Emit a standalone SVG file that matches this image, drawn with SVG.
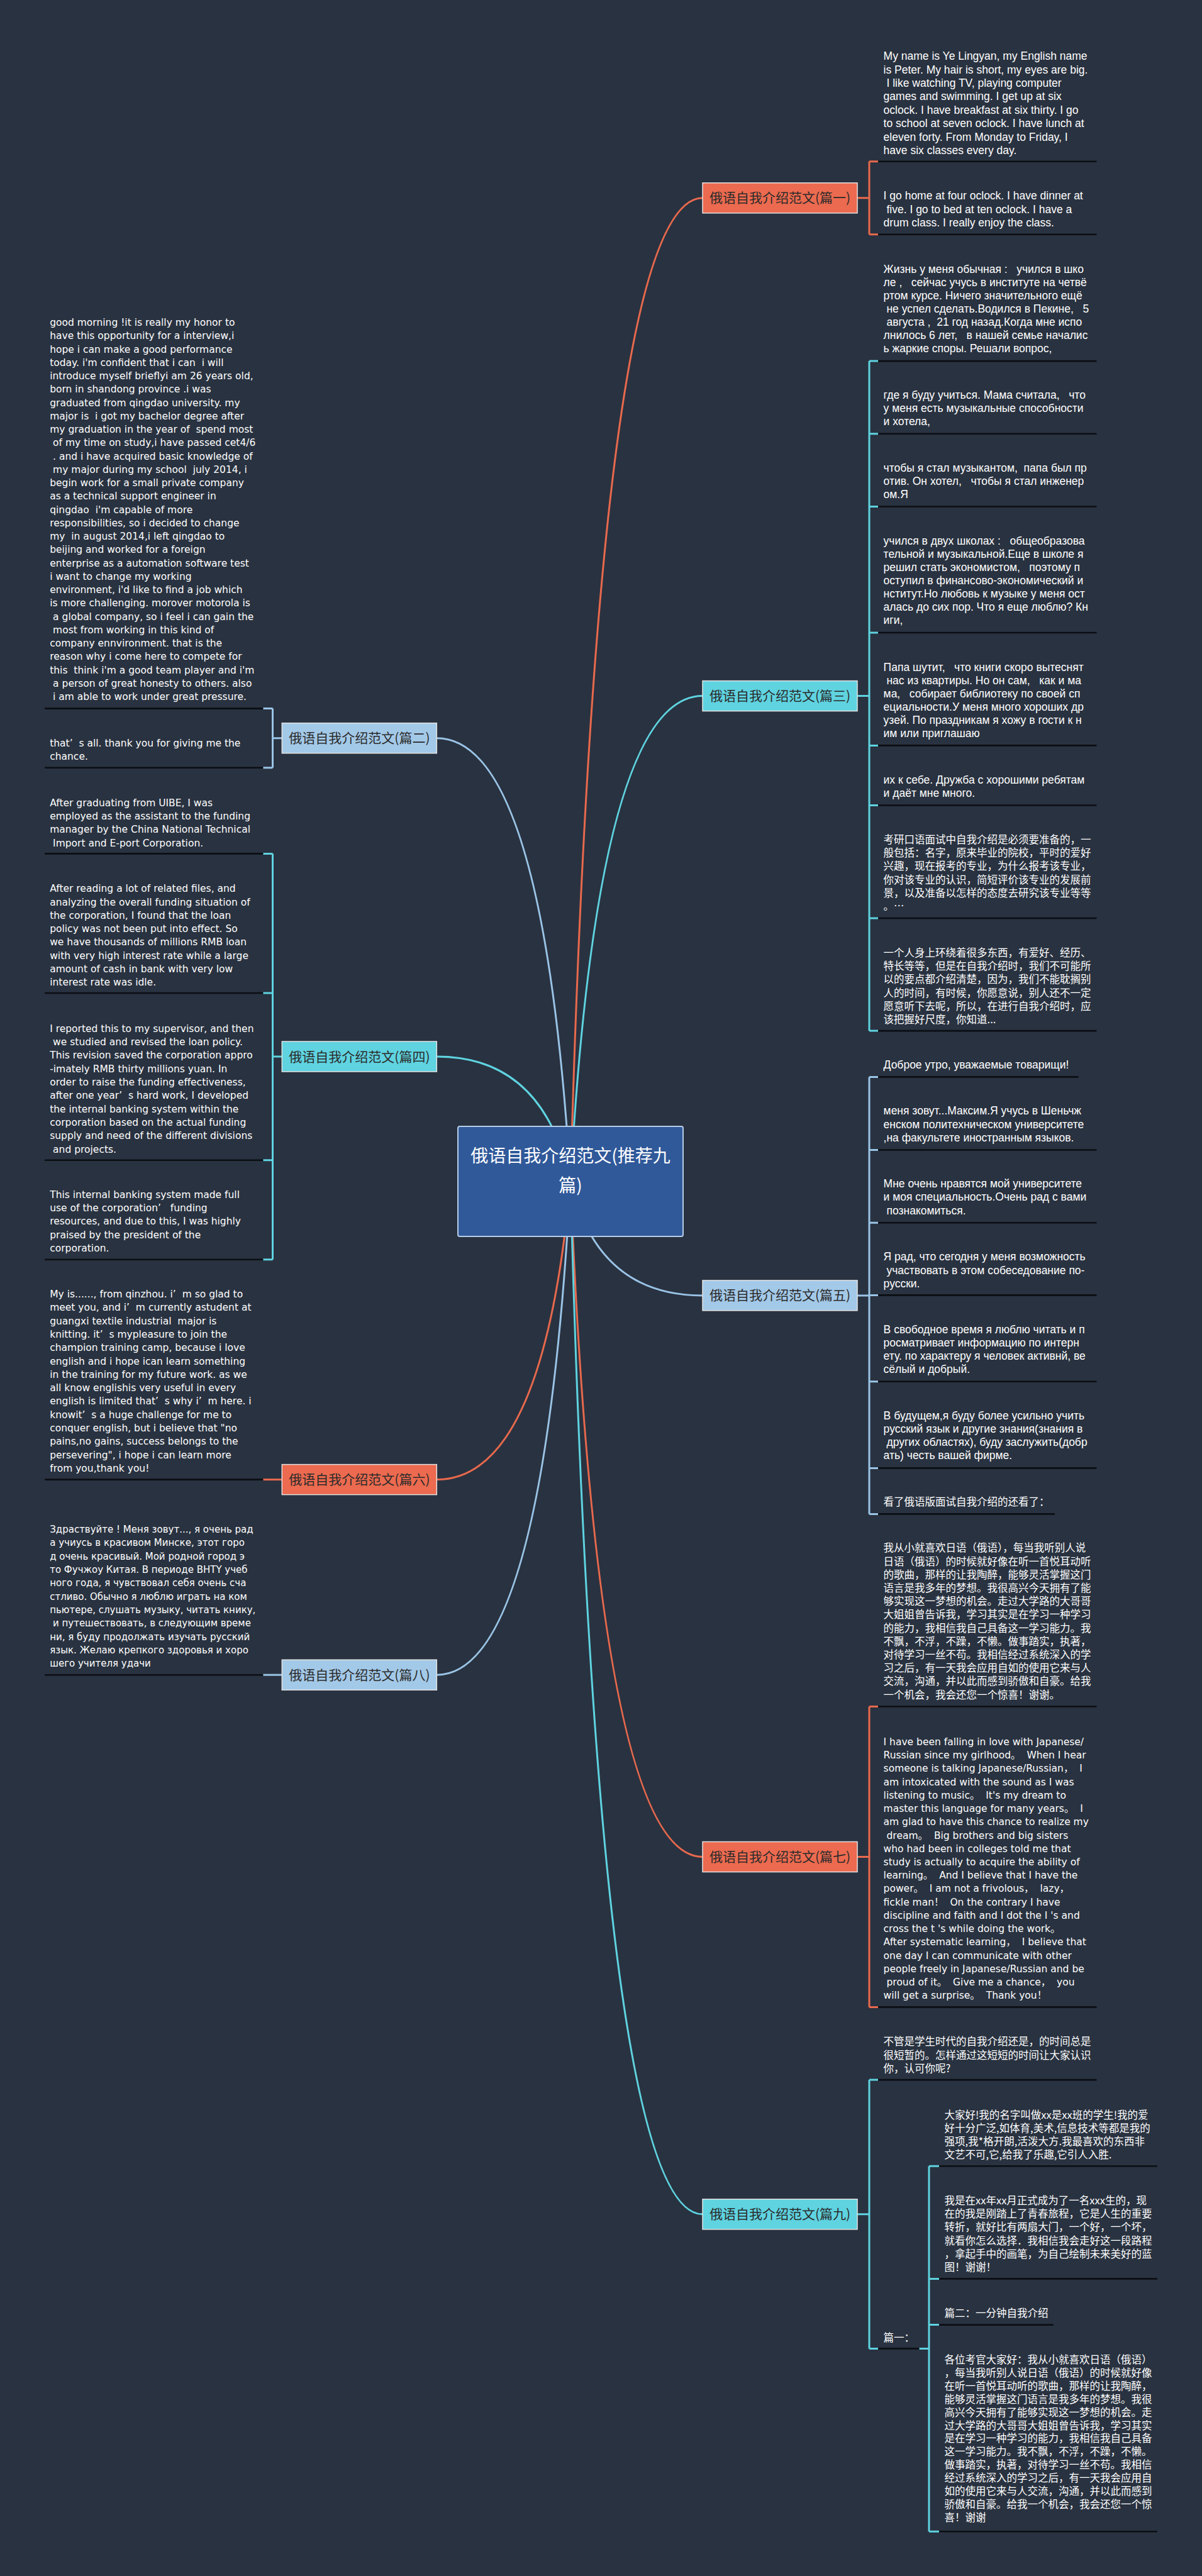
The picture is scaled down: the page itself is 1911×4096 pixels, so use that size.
<svg xmlns="http://www.w3.org/2000/svg" width="1911" height="4096" viewBox="0 0 1911 4096" xml:space="preserve">
<style>
.en{font-family:"Liberation Sans","Noto Sans CJK SC",sans-serif;font-size:17.5px;fill:#ffffff;white-space:pre}
.wd{font-family:"DejaVu Sans","Noto Sans CJK SC",sans-serif;font-size:15.5px;fill:#ffffff;white-space:pre}
.wr{font-family:"DejaVu Sans","Noto Sans CJK SC",sans-serif;font-size:15px;fill:#ffffff;white-space:pre}
.cj{font-family:"Noto Sans CJK SC",sans-serif;font-size:16.5px;fill:#ffffff;white-space:pre}
.ul{stroke:#0b0e13;stroke-width:2.6;fill:none}
.or{stroke:#e8694d;stroke-width:3;fill:none}
.cy{stroke:#5fd3e0;stroke-width:3;fill:none}
.lb{stroke:#9ac4e6;stroke-width:3;fill:none}
.bx{stroke:#e2e2e2;stroke-width:1.5}
.bor{fill:#ec6a4f}
.bcy{fill:#5fd3e0}
.blb{fill:#a3c9e8}
.bt{font-family:"Noto Sans CJK SC",sans-serif;font-size:21px;fill:#2b2b2b;text-anchor:middle}
.rt{font-family:"Noto Sans CJK SC",sans-serif;font-size:28px;fill:#ffffff;text-anchor:middle}
</style>
<rect x="0" y="0" width="1911" height="4096" fill="#293240"/>

<g id="connectors">
<path class="or" d="M907 1879 Q950 314.8 1117 314.8"/>
<path class="cy" d="M907 1879 Q950 1106.6 1117 1106.6"/>
<path class="lb" d="M907 1879 Q950 2059.9 1117 2059.9"/>
<path class="or" d="M907 1879 Q950 2952.5 1117 2952.5"/>
<path class="cy" d="M907 1879 Q950 3520.8 1117 3520.8"/>
<path class="lb" d="M907 1879 Q864 1173.7 694.5 1173.7"/>
<path class="cy" d="M907 1879 Q864 1680 694.5 1680"/>
<path class="or" d="M907 1879 Q864 2352.6 694.5 2352.6"/>
<path class="lb" d="M907 1879 Q864 2663.2 694.5 2663.2"/>

<path class="or" d="M1363 314.8H1382M1382 256.8V372.7M1382 256.8H1396M1382 372.7H1396"/>
<path class="cy" d="M1363 1106.6H1382M1382 574.1V1639.1M1382 574.1H1396M1382 689.8H1396M1382 805.5H1396M1382 1006H1396M1382 1185.4H1396M1382 1280.5H1396M1382 1460H1396M1382 1639.1H1396"/>
<path class="lb" d="M1363 2059.9H1382M1382 1712.4V2407.4M1382 1712.4H1396M1382 1828.5H1396M1382 1944.3H1396M1382 2059.4H1396M1382 2196.8H1396M1382 2334.4H1396M1382 2407.4H1396"/>
<path class="or" d="M1363 2952.5H1382M1382 2713.5V3191.4M1382 2713.5H1396M1382 3191.4H1396"/>
<path class="cy" d="M1363 3520.8H1382M1382 3307.1V3734.4M1382 3307.1H1396M1382 3734.4H1396"/>
<path class="cy" d="M1461.4 3734.4H1477M1477 3444.2V4025.2M1477 3444.2H1493M1477 3623.4H1493M1477 3696.6H1493M1477 4025.2H1493"/>

<path class="lb" d="M448.3 1173.7H433.5M433.5 1126.6V1220.8M433.5 1126.6H418.3M433.5 1220.8H418.3"/>
<path class="cy" d="M448.3 1680H433.5M433.5 1357.4V2002.7M433.5 1357.4H418.3M433.5 1579H418.3M433.5 1844.8H418.3M433.5 2002.7H418.3"/>
<path class="or" d="M448.3 2352.6H418.3"/>
<path class="lb" d="M448.3 2663.2H418.3"/>
</g>

<g id="root">
<rect x="728" y="1791" width="358" height="175" rx="3" fill="#30599a" stroke="#b7cde8" stroke-width="2"/>
<text class="rt" x="907" y="1848">俄语自我介绍范文(推荐九</text>
<text class="rt" x="907" y="1895">篇)</text>
</g>

<g id="b1"><rect class="bx bor" x="1117" y="290.8" width="246" height="48"/><text class="bt" x="1240" y="322.3">俄语自我介绍范文(篇一)</text></g>
<g id="b3"><rect class="bx bcy" x="1117" y="1082.6" width="246" height="48"/><text class="bt" x="1240" y="1114.1">俄语自我介绍范文(篇三)</text></g>
<g id="b5"><rect class="bx blb" x="1117" y="2035.9" width="246" height="48"/><text class="bt" x="1240" y="2067.4">俄语自我介绍范文(篇五)</text></g>
<g id="b7"><rect class="bx bor" x="1117" y="2928.5" width="246" height="48"/><text class="bt" x="1240" y="2960">俄语自我介绍范文(篇七)</text></g>
<g id="b9"><rect class="bx bcy" x="1117" y="3496.8" width="246" height="48"/><text class="bt" x="1240" y="3528.3">俄语自我介绍范文(篇九)</text></g>
<g id="b2"><rect class="bx blb" x="448.3" y="1149.7" width="246" height="48"/><text class="bt" x="571.4" y="1181.2">俄语自我介绍范文(篇二)</text></g>
<g id="b4"><rect class="bx bcy" x="448.3" y="1656" width="246" height="48"/><text class="bt" x="571.4" y="1687.5">俄语自我介绍范文(篇四)</text></g>
<g id="b6"><rect class="bx bor" x="448.3" y="2328.6" width="246" height="48"/><text class="bt" x="571.4" y="2360.1">俄语自我介绍范文(篇六)</text></g>
<g id="b8"><rect class="bx blb" x="448.3" y="2639.2" width="246" height="48"/><text class="bt" x="571.4" y="2670.7">俄语自我介绍范文(篇八)</text></g>

<g id="tA">
<text class="en" x="1404.6" y="95.1">My name is Ye Lingyan, my English name</text>
<text class="en" x="1404.6" y="116.5">is Peter. My hair is short, my eyes are big.</text>
<text class="en" x="1404.6" y="137.9"> I like watching TV, playing computer</text>
<text class="en" x="1404.6" y="159.3">games and swimming. I get up at six</text>
<text class="en" x="1404.6" y="180.7">oclock. I have breakfast at six thirty. I go</text>
<text class="en" x="1404.6" y="202.1">to school at seven oclock. I have lunch at</text>
<text class="en" x="1404.6" y="223.5">eleven forty. From Monday to Friday, I</text>
<text class="en" x="1404.6" y="244.9">have six classes every day.</text>
<path class="ul" d="M1396 256.8H1743.5"/>
</g>
<g id="tB">
<text class="en" x="1404.6" y="317.3">I go home at four oclock. I have dinner at</text>
<text class="en" x="1404.6" y="338.7"> five. I go to bed at ten oclock. I have a</text>
<text class="en" x="1404.6" y="360.1">drum class. I really enjoy the class.</text>
<path class="ul" d="M1396 372.7H1743.5"/>
</g>

<g id="tC">
<text class="en" x="1404.6" y="433.9">Жизнь у меня обычная :   учился в шко</text>
<text class="en" x="1404.6" y="454.9">ле ,   сейчас учусь в институте на четвё</text>
<text class="en" x="1404.6" y="475.9">ртом курсе. Ничего значительного ещё</text>
<text class="en" x="1404.6" y="496.9"> не успел сделать.Водился в Пекине,   5</text>
<text class="en" x="1404.6" y="517.9"> августа ,  21 год назад.Когда мне испо</text>
<text class="en" x="1404.6" y="538.9">лнилось 6 лет,   в нашей семье началис</text>
<text class="en" x="1404.6" y="559.9">ь жаркие споры. Решали вопрос,</text>
<path class="ul" d="M1396 574.1H1743.5"/>
</g>
<g id="tD">
<text class="en" x="1404.6" y="633.8">где я буду учиться. Мама считала,   что</text>
<text class="en" x="1404.6" y="654.8">у меня есть музыкальные способности</text>
<text class="en" x="1404.6" y="675.8">и хотела,</text>
<path class="ul" d="M1396 689.8H1743.5"/>
</g>
<g id="tE">
<text class="en" x="1404.6" y="749.8">чтобы я стал музыкантом,  папа был пр</text>
<text class="en" x="1404.6" y="770.8">отив. Он хотел,   чтобы я стал инженер</text>
<text class="en" x="1404.6" y="791.8">ом.Я</text>
<path class="ul" d="M1396 805.5H1743.5"/>
</g>
<g id="tF">
<text class="en" x="1404.6" y="865.8">учился в двух школах :   общеобразова</text>
<text class="en" x="1404.6" y="886.8">тельной и музыкальной.Еще в школе я</text>
<text class="en" x="1404.6" y="907.7">решил стать экономистом,   поэтому п</text>
<text class="en" x="1404.6" y="928.7">оступил в финансово-экономический и</text>
<text class="en" x="1404.6" y="949.6">нститут.Но любовь к музыке у меня ост</text>
<text class="en" x="1404.6" y="970.6">алась до сих пор. Что я еще люблю? Кн</text>
<text class="en" x="1404.6" y="991.6">иги,</text>
<path class="ul" d="M1396 1006H1743.5"/>
</g>
<g id="tG">
<text class="en" x="1404.6" y="1066.5">Папа шутит,   что книги скоро вытеснят</text>
<text class="en" x="1404.6" y="1087.5"> нас из квартиры. Но он сам,   как и ма</text>
<text class="en" x="1404.6" y="1108.5">ма,   собирает библиотеку по своей сп</text>
<text class="en" x="1404.6" y="1129.5">ециальности.У меня много хороших др</text>
<text class="en" x="1404.6" y="1150.5">узей. По праздникам я хожу в гости к н</text>
<text class="en" x="1404.6" y="1171.5">им или приглашаю</text>
<path class="ul" d="M1396 1185.4H1743.5"/>
</g>
<g id="tH">
<text class="en" x="1404.6" y="1245.9">их к себе. Дружба с хорошими ребятам</text>
<text class="en" x="1404.6" y="1266.8">и даёт мне много.</text>
<path class="ul" d="M1396 1280.5H1743.5"/>
</g>
<g id="tI">
<text class="cj" x="1404.6" y="1340.5">考研口语面试中自我介绍是必须要准备的，一</text>
<text class="cj" x="1404.6" y="1361.8">般包括：名字，原来毕业的院校，平时的爱好</text>
<text class="cj" x="1404.6" y="1383.2">兴趣，现在报考的专业，为什么报考该专业，</text>
<text class="cj" x="1404.6" y="1404.5">你对该专业的认识，简短评价该专业的发展前</text>
<text class="cj" x="1404.6" y="1425.8">景，以及准备以怎样的态度去研究该专业等等</text>
<text class="cj" x="1404.6" y="1447.2">。…</text>
<path class="ul" d="M1396 1460H1743.5"/>
</g>
<g id="tJ">
<text class="cj" x="1404.6" y="1520.5">一个人身上环绕着很多东西，有爱好、经历、</text>
<text class="cj" x="1404.6" y="1541.8">特长等等，但是在自我介绍时，我们不可能所</text>
<text class="cj" x="1404.6" y="1563.2">以的要点都介绍清楚，因为，我们不能耽搁别</text>
<text class="cj" x="1404.6" y="1584.5">人的时间，有时候，你愿意说，别人还不一定</text>
<text class="cj" x="1404.6" y="1605.8">愿意听下去呢，所以，在进行自我介绍时，应</text>
<text class="cj" x="1404.6" y="1627.2">该把握好尺度，你知道...</text>
<path class="ul" d="M1396 1639.1H1743.5"/>
</g>

<g id="tK">
<text class="en" x="1404.6" y="1699">Доброе утро, уважаемые товарищи!</text>
<path class="ul" d="M1396 1712.4H1714.6"/>
</g>
<g id="tL">
<text class="en" x="1404.6" y="1772.1">меня зовут...Максим.Я учусь в Шеньчж</text>
<text class="en" x="1404.6" y="1793.5">енском политехническом университете</text>
<text class="en" x="1404.6" y="1814.8">,на факультете иностранным языков.</text>
<path class="ul" d="M1396 1828.5H1743.5"/>
</g>
<g id="tM">
<text class="en" x="1404.6" y="1887.9">Мне очень нравятся мой университете</text>
<text class="en" x="1404.6" y="1909.2">и моя специальность.Очень рад с вами</text>
<text class="en" x="1404.6" y="1930.6"> познакомиться.</text>
<path class="ul" d="M1396 1944.3H1743.5"/>
</g>
<g id="tN">
<text class="en" x="1404.6" y="2004.4">Я рад, что сегодня у меня возможность</text>
<text class="en" x="1404.6" y="2025.7"> участвовать в этом собеседование по-</text>
<text class="en" x="1404.6" y="2047">русски.</text>
<path class="ul" d="M1396 2059.4H1743.5"/>
</g>
<g id="tO">
<text class="en" x="1404.6" y="2120.1">В свободное время я люблю читать и п</text>
<text class="en" x="1404.6" y="2141.1">росматривает информацию по интерн</text>
<text class="en" x="1404.6" y="2162.1">ету. по характеру я человек активнй, ве</text>
<text class="en" x="1404.6" y="2183.1">сёлый и добрый.</text>
<path class="ul" d="M1396 2196.8H1743.5"/>
</g>
<g id="tP">
<text class="en" x="1404.6" y="2256.7">В будущем,я буду более усильно учить</text>
<text class="en" x="1404.6" y="2277.7">русский язык и другие знания(знания в</text>
<text class="en" x="1404.6" y="2298.7"> других областях), буду заслужить(добр</text>
<text class="en" x="1404.6" y="2319.7">ать) честь вашей фирме.</text>
<path class="ul" d="M1396 2334.4H1743.5"/>
</g>
<g id="tQ">
<text class="cj" x="1404.6" y="2394.4">看了俄语版面试自我介绍的还看了：</text>
<path class="ul" d="M1396 2407.4H1677"/>
</g>

<g id="tR">
<text class="cj" x="1404.6" y="2467.3">我从小就喜欢日语（俄语），每当我听别人说</text>
<text class="cj" x="1404.6" y="2488.5">日语（俄语）的时候就好像在听一首悦耳动听</text>
<text class="cj" x="1404.6" y="2509.7">的歌曲，那样的让我陶醉，能够灵活掌握这门</text>
<text class="cj" x="1404.6" y="2530.9">语言是我多年的梦想。我很高兴今天拥有了能</text>
<text class="cj" x="1404.6" y="2552.1">够实现这一梦想的机会。走过大学路的大哥哥</text>
<text class="cj" x="1404.6" y="2573.3">大姐姐曾告诉我，学习其实是在学习一种学习</text>
<text class="cj" x="1404.6" y="2594.5">的能力，我相信我自己具备这一学习能力。我</text>
<text class="cj" x="1404.6" y="2615.7">不飘，不浮，不躁，不懒。做事踏实，执著，</text>
<text class="cj" x="1404.6" y="2636.9">对待学习一丝不苟。我相信经过系统深入的学</text>
<text class="cj" x="1404.6" y="2658.1">习之后，有一天我会应用自如的使用它来与人</text>
<text class="cj" x="1404.6" y="2679.3">交流，沟通，并以此而感到骄傲和自豪。给我</text>
<text class="cj" x="1404.6" y="2700.5">一个机会，我会还您一个惊喜！谢谢。</text>
<path class="ul" d="M1396 2713.5H1743.5"/>
</g>
<g id="tS">
<text class="wd" x="1404.6" y="2774.8">I have been falling in love with Japanese/</text>
<text class="wd" x="1404.6" y="2796">Russian since my girlhood。  When I hear</text>
<text class="wd" x="1404.6" y="2817.3">someone is talking Japanese/Russian，  I</text>
<text class="wd" x="1404.6" y="2838.5">am intoxicated with the sound as I was</text>
<text class="wd" x="1404.6" y="2859.8">listening to music。  It's my dream to</text>
<text class="wd" x="1404.6" y="2881">master this language for many years。  I</text>
<text class="wd" x="1404.6" y="2902.2">am glad to have this chance to realize my</text>
<text class="wd" x="1404.6" y="2923.5"> dream。  Big brothers and big sisters</text>
<text class="wd" x="1404.6" y="2944.7">who had been in colleges told me that</text>
<text class="wd" x="1404.6" y="2966">study is actually to acquire the ability of</text>
<text class="wd" x="1404.6" y="2987.2">learning。  And I believe that I have the</text>
<text class="wd" x="1404.6" y="3008.4">power。  I am not a frivolous，  lazy，</text>
<text class="wd" x="1404.6" y="3029.7">fickle man！  On the contrary I have</text>
<text class="wd" x="1404.6" y="3050.9">discipline and faith and I dot the I 's and</text>
<text class="wd" x="1404.6" y="3072.2">cross the t 's while doing the work。</text>
<text class="wd" x="1404.6" y="3093.4">After systematic learning，  I believe that</text>
<text class="wd" x="1404.6" y="3114.6">one day I can communicate with other</text>
<text class="wd" x="1404.6" y="3135.9">people freely in Japanese/Russian and be</text>
<text class="wd" x="1404.6" y="3157.1"> proud of it。  Give me a chance，  you</text>
<text class="wd" x="1404.6" y="3178.4">will get a surprise。  Thank you！</text>
<path class="ul" d="M1396 3191.4H1743.5"/>
</g>

<g id="tT">
<text class="cj" x="1404.6" y="3252.2">不管是学生时代的自我介绍还是，的时间总是</text>
<text class="cj" x="1404.6" y="3273.6">很短暂的。怎样通过这短短的时间让大家认识</text>
<text class="cj" x="1404.6" y="3295.1">你，认可你呢?</text>
<path class="ul" d="M1396 3307.1H1743.5"/>
</g>
<g id="tP1">
<text class="cj" x="1404.6" y="3723">篇一：</text>
<path class="ul" d="M1396 3734.4H1461.4"/>
</g>
<g id="tU">
<text class="cj" x="1501.5" y="3368.5">大家好!我的名字叫做xx是xx班的学生!我的爱</text>
<text class="cj" x="1501.5" y="3389.5">好十分广泛,如体育,美术,信息技术等都是我的</text>
<text class="cj" x="1501.5" y="3410.5">强项,我*格开朗,活泼大方.我最喜欢的东西非</text>
<text class="cj" x="1501.5" y="3431.5">文艺不可,它,给我了乐趣,它引人入胜.</text>
<path class="ul" d="M1493 3444.2H1840"/>
</g>
<g id="tV">
<text class="cj" x="1501.5" y="3504.8">我是在xx年xx月正式成为了一名xxx生的，现</text>
<text class="cj" x="1501.5" y="3526.1">在的我是刚踏上了青春旅程，它是人生的重要</text>
<text class="cj" x="1501.5" y="3547.4">转折，就好比有两扇大门，一个好，一个坏，</text>
<text class="cj" x="1501.5" y="3568.7">就看你怎么选择．我相信我会走好这一段路程</text>
<text class="cj" x="1501.5" y="3590">，拿起手中的画笔，为自己绘制未来美好的蓝</text>
<text class="cj" x="1501.5" y="3611.3">图！谢谢！</text>
<path class="ul" d="M1493 3623.4H1840"/>
</g>
<g id="tW0">
<text class="cj" x="1501.5" y="3684.3">篇二：一分钟自我介绍</text>
<path class="ul" d="M1493 3696.6H1674.7"/>
</g>
<g id="tW">
<text class="cj" x="1501.5" y="3757.8">各位考官大家好：我从小就喜欢日语（俄语）</text>
<text class="cj" x="1501.5" y="3778.7">，每当我听别人说日语（俄语）的时候就好像</text>
<text class="cj" x="1501.5" y="3799.7">在听一首悦耳动听的歌曲，那样的让我陶醉，</text>
<text class="cj" x="1501.5" y="3820.6">能够灵活掌握这门语言是我多年的梦想。我很</text>
<text class="cj" x="1501.5" y="3841.6">高兴今天拥有了能够实现这一梦想的机会。走</text>
<text class="cj" x="1501.5" y="3862.5">过大学路的大哥哥大姐姐曾告诉我，学习其实</text>
<text class="cj" x="1501.5" y="3883.4">是在学习一种学习的能力，我相信我自己具备</text>
<text class="cj" x="1501.5" y="3904.4">这一学习能力。我不飘，不浮，不躁，不懒。</text>
<text class="cj" x="1501.5" y="3925.3">做事踏实，执著，对待学习一丝不苟。我相信</text>
<text class="cj" x="1501.5" y="3946.3">经过系统深入的学习之后，有一天我会应用自</text>
<text class="cj" x="1501.5" y="3967.2">如的使用它来与人交流，沟通，并以此而感到</text>
<text class="cj" x="1501.5" y="3988.1">骄傲和自豪。给我一个机会，我会还您一个惊</text>
<text class="cj" x="1501.5" y="4009.1">喜！谢谢</text>
<path class="ul" d="M1493 4025.2H1840"/>
</g>

<g id="ta">
<text class="wd" x="79.2" y="518.1">good morning !it is really my honor to</text>
<text class="wd" x="79.2" y="539.4">have this opportunity for a interview,i</text>
<text class="wd" x="79.2" y="560.6">hope i can make a good performance</text>
<text class="wd" x="79.2" y="581.9">today. i'm confident that i can  i will</text>
<text class="wd" x="79.2" y="603.1">introduce myself brieflyi am 26 years old,</text>
<text class="wd" x="79.2" y="624.4">born in shandong province .i was</text>
<text class="wd" x="79.2" y="645.6">graduated from qingdao university. my</text>
<text class="wd" x="79.2" y="666.9">major is  i got my bachelor degree after</text>
<text class="wd" x="79.2" y="688.1">my graduation in the year of  spend most</text>
<text class="wd" x="79.2" y="709.4"> of my time on study,i have passed cet4/6</text>
<text class="wd" x="79.2" y="730.6"> . and i have acquired basic knowledge of</text>
<text class="wd" x="79.2" y="751.9"> my major during my school  july 2014, i</text>
<text class="wd" x="79.2" y="773.1">begin work for a small private company</text>
<text class="wd" x="79.2" y="794.4">as a technical support engineer in</text>
<text class="wd" x="79.2" y="815.6">qingdao  i'm capable of more</text>
<text class="wd" x="79.2" y="836.9">responsibilities, so i decided to change</text>
<text class="wd" x="79.2" y="858.1">my  in august 2014,i left qingdao to</text>
<text class="wd" x="79.2" y="879.4">beijing and worked for a foreign</text>
<text class="wd" x="79.2" y="900.6">enterprise as a automation software test</text>
<text class="wd" x="79.2" y="921.9">i want to change my working</text>
<text class="wd" x="79.2" y="943.1">environment, i'd like to find a job which</text>
<text class="wd" x="79.2" y="964.4">is more challenging. morover motorola is</text>
<text class="wd" x="79.2" y="985.6"> a global company, so i feel i can gain the</text>
<text class="wd" x="79.2" y="1006.9"> most from working in this kind of</text>
<text class="wd" x="79.2" y="1028.1">company ennvironment. that is the</text>
<text class="wd" x="79.2" y="1049.4">reason why i come here to compete for</text>
<text class="wd" x="79.2" y="1070.6">this  think i'm a good team player and i'm</text>
<text class="wd" x="79.2" y="1091.9"> a person of great honesty to others. also</text>
<text class="wd" x="79.2" y="1113.1"> i am able to work under great pressure.</text>
<path class="ul" d="M71.1 1126.6H418.3"/>
</g>
<g id="tb">
<text class="wd" x="79.2" y="1187">that’  s all. thank you for giving me the</text>
<text class="wd" x="79.2" y="1208.4">chance.</text>
<path class="ul" d="M71.1 1220.8H418.3"/>
</g>
<g id="tc">
<text class="wd" x="79.2" y="1281.9">After graduating from UIBE, I was</text>
<text class="wd" x="79.2" y="1303.1">employed as the assistant to the funding</text>
<text class="wd" x="79.2" y="1324.3">manager by the China National Technical</text>
<text class="wd" x="79.2" y="1345.5"> Import and E-port Corporation.</text>
<path class="ul" d="M71.1 1357.4H418.3"/>
</g>
<g id="td">
<text class="wd" x="79.2" y="1418.2">After reading a lot of related files, and</text>
<text class="wd" x="79.2" y="1439.5">analyzing the overall funding situation of</text>
<text class="wd" x="79.2" y="1460.8">the corporation, I found that the loan</text>
<text class="wd" x="79.2" y="1482.1">policy was not been put into effect. So</text>
<text class="wd" x="79.2" y="1503.4">we have thousands of millions RMB loan</text>
<text class="wd" x="79.2" y="1524.7">with very high interest rate while a large</text>
<text class="wd" x="79.2" y="1546">amount of cash in bank with very low</text>
<text class="wd" x="79.2" y="1567.3">interest rate was idle.</text>
<path class="ul" d="M71.1 1579H418.3"/>
</g>
<g id="te">
<text class="wd" x="79.2" y="1640.8">I reported this to my supervisor, and then</text>
<text class="wd" x="79.2" y="1662.1"> we studied and revised the loan policy.</text>
<text class="wd" x="79.2" y="1683.4">This revision saved the corporation appro</text>
<text class="wd" x="79.2" y="1704.7">-imately RMB thirty millions yuan. In</text>
<text class="wd" x="79.2" y="1726">order to raise the funding effectiveness,</text>
<text class="wd" x="79.2" y="1747.3">after one year’  s hard work, I developed</text>
<text class="wd" x="79.2" y="1768.6">the internal banking system within the</text>
<text class="wd" x="79.2" y="1789.9">corporation based on the actual funding</text>
<text class="wd" x="79.2" y="1811.2">supply and need of the different divisions</text>
<text class="wd" x="79.2" y="1832.5"> and projects.</text>
<path class="ul" d="M71.1 1844.8H418.3"/>
</g>
<g id="tf">
<text class="wd" x="79.2" y="1904.6">This internal banking system made full</text>
<text class="wd" x="79.2" y="1925.9">use of the corporation’   funding</text>
<text class="wd" x="79.2" y="1947.2">resources, and due to this, I was highly</text>
<text class="wd" x="79.2" y="1968.5">praised by the president of the</text>
<text class="wd" x="79.2" y="1989.8">corporation.</text>
<path class="ul" d="M71.1 2002.7H418.3"/>
</g>
<g id="tg">
<text class="wd" x="79.2" y="2063">My is......, from qinzhou. i’  m so glad to</text>
<text class="wd" x="79.2" y="2084.3">meet you, and i’  m currently astudent at</text>
<text class="wd" x="79.2" y="2105.6">guangxi textile industrial  major is</text>
<text class="wd" x="79.2" y="2126.9">knitting. it’  s mypleasure to join the</text>
<text class="wd" x="79.2" y="2148.2">champion training camp, because i love</text>
<text class="wd" x="79.2" y="2169.5">english and i hope ican learn something</text>
<text class="wd" x="79.2" y="2190.8">in the training for my future work. as we</text>
<text class="wd" x="79.2" y="2212.1">all know englishis very useful in every</text>
<text class="wd" x="79.2" y="2233.4">english is limited that’  s why i’  m here. i</text>
<text class="wd" x="79.2" y="2254.7">knowit’  s a huge challenge for me to</text>
<text class="wd" x="79.2" y="2276">conquer english, but i believe that "no</text>
<text class="wd" x="79.2" y="2297.3">pains,no gains, success belongs to the</text>
<text class="wd" x="79.2" y="2318.6">persevering", i hope i can learn more</text>
<text class="wd" x="79.2" y="2339.9">from you,thank you!</text>
<path class="ul" d="M71.1 2352.6H418.3"/>
</g>
<g id="th">
<text class="wr" x="79.2" y="2437.1">Здраствуйте ! Меня зовут..., я очень рад</text>
<text class="wr" x="79.2" y="2458.4">а учиусь в красивом Минске, этот горо</text>
<text class="wr" x="79.2" y="2479.7">д очень красивый. Мой родной город э</text>
<text class="wr" x="79.2" y="2501">то Фучжоу Китая. В периоде BHTY учеб</text>
<text class="wr" x="79.2" y="2522.3">ного года, я чувствовал себя очень сча</text>
<text class="wr" x="79.2" y="2543.6">стливо. Обычно я люблю играть на ком</text>
<text class="wr" x="79.2" y="2564.9">пьютере, слушать музыку, читать книку,</text>
<text class="wr" x="79.2" y="2586.2"> и путешествовать, в следующим време</text>
<text class="wr" x="79.2" y="2607.5">ни, я буду продолжать изучать русский</text>
<text class="wr" x="79.2" y="2628.8">язык. Желаю крепкого здоровья и хоро</text>
<text class="wr" x="79.2" y="2650.1">шего учителя удачи</text>
<path class="ul" d="M71.1 2663.2H418.3"/>
</g>
</svg>
